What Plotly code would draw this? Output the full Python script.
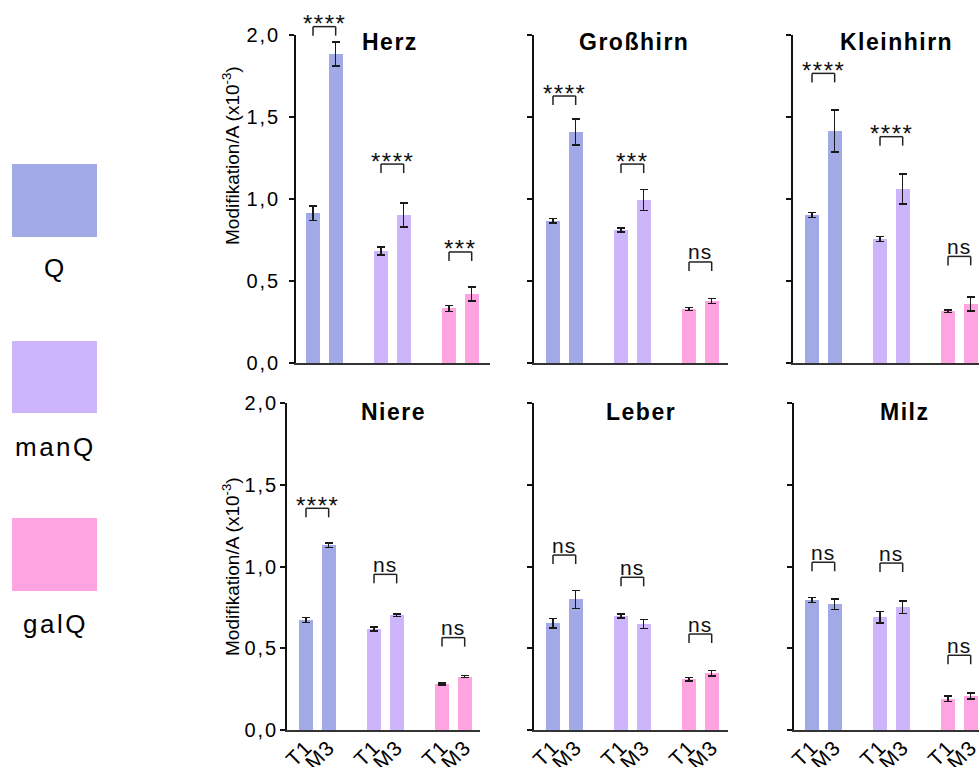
import plotly.graph_objects as go

# ---------------- data ----------------
organs = ["Herz", "Großhirn", "Kleinhirn", "Niere", "Leber", "Milz"]
groups = ["Q", "manQ", "galQ"]
conditions = ["T1", "M3"]
y_ticks = [0.0, 0.5, 1.0, 1.5, 2.0]

q_t1 = [0.913, 0.868, 0.902, 0.673, 0.653, 0.795]
q_m3 = [1.884, 1.409, 1.415, 1.131, 0.799, 0.770]
q_t1_err = [0.044, 0.014, 0.016, 0.014, 0.028, 0.014]
q_m3_err = [0.072, 0.080, 0.128, 0.014, 0.055, 0.032]

manq_t1 = [0.683, 0.811, 0.756, 0.618, 0.698, 0.690]
manq_m3 = [0.902, 0.994, 1.061, 0.703, 0.649, 0.751]
manq_t1_err = [0.023, 0.013, 0.016, 0.012, 0.012, 0.036]
manq_m3_err = [0.073, 0.065, 0.090, 0.008, 0.027, 0.037]

galq_t1 = [0.333, 0.329, 0.315, 0.281, 0.310, 0.190]
galq_m3 = [0.421, 0.378, 0.360, 0.326, 0.347, 0.208]
galq_t1_err = [0.019, 0.008, 0.008, 0.005, 0.010, 0.017]
galq_m3_err = [0.042, 0.015, 0.042, 0.006, 0.016, 0.017]

sig_q = ["****", "****", "****", "****", "ns", "ns"]
sig_manq = ["****", "***", "****", "ns", "ns", "ns"]
sig_galq = ["***", "ns", "ns", "ns", "ns", "ns"]

bracket_q = [2.051, 1.628, 1.766, 1.356, 1.070, 1.026]
bracket_manq = [1.213, 1.213, 1.380, 0.952, 0.934, 1.021]
bracket_galq = [0.677, 0.616, 0.650, 0.565, 0.587, 0.457]

# ---------------- style / layout ----------------
colors = ["#A1A9E6", "#CDB5FC", "#FFA4E0"]
W, H = 979, 767
FONT = "Liberation Sans, Arial, sans-serif"
unit = 22.67  # px per x unit
# panel geometry in px: x0, x1, ytop, ybottom, first bar offset
panels = [
    (296, 490, 35, 363, 17),
    (534, 728, 35, 363, 19),
    (793, 979, 35, 363, 19),
    (287, 480, 403, 730, 19),
    (534, 728, 403, 730, 19),
    (794, 979, 403, 730, 18),
]


def ls(text, sp):
    return f'<span style="letter-spacing:{sp}px">{text}</span>'


means = [(q_t1, q_m3), (manq_t1, manq_m3), (galq_t1, galq_m3)]
errs = [(q_t1_err, q_m3_err), (manq_t1_err, manq_m3_err), (galq_t1_err, galq_m3_err)]
sigs = [sig_q, sig_manq, sig_galq]
brackets = [bracket_q, bracket_manq, bracket_galq]

fig = go.Figure()
layout = dict(
    width=W, height=H, autosize=False,
    margin=dict(l=0, r=0, t=0, b=0, pad=0, autoexpand=False),
    paper_bgcolor="white", plot_bgcolor="white",
    showlegend=False, bargap=0,
    font=dict(family=FONT, color="black"),
)
shapes = []
annotations = []

tick_pos = []
tick_txt = []
for g in range(3):
    for k in range(2):
        tick_pos.append(3 * g + k)
        tick_txt.append(ls(conditions[k], 1))

for i, organ in enumerate(organs):
    x0, x1, yt, yb, off = panels[i]
    r0 = -off / unit
    r1 = r0 + (x1 - x0) / unit
    ax = "" if i == 0 else str(i + 1)
    xa, ya = "x" + ax, "y" + ax
    bottom = i >= 3
    for g in range(3):
        fig.add_trace(go.Bar(
            x=[3 * g, 3 * g + 1],
            y=[means[g][0][i], means[g][1][i]],
            width=0.62,
            marker=dict(color=colors[g], line=dict(width=0)),
            error_y=dict(type="data", array=[errs[g][0][i], errs[g][1][i]],
                         color="#1a1a1a", thickness=1.5, width=4),
            xaxis=xa, yaxis=ya, name=groups[g],
        ))
        # significance bracket
        by = brackets[g][i] / 2.0
        leg = 9 / (yb - yt)
        fa = (3 * g - r0) / (r1 - r0)
        fb = (3 * g + 1 - r0) / (r1 - r0)
        for (ax0, ay0, ax1, ay1) in [(fa, by, fb, by), (fa, by, fa, by - leg), (fb, by, fb, by - leg)]:
            shapes.append(dict(type="line", xref=xa + " domain", yref=ya + " domain",
                               x0=ax0, y0=ay0, x1=ax1, y1=ay1,
                               line=dict(color="#222", width=1.5)))
        s = sigs[g][i]
        star = s != "ns"
        annotations.append(dict(
            xref=xa + " domain", yref=ya + " domain", x=(fa + fb) / 2, y=by,
            text=ls(s, 1.5 if star else 1), showarrow=False,
            xanchor="center", yanchor="middle", yshift=3 if star else 10,
            font=dict(size=24 if star else 21, family=FONT, color="#111"),
        ))
    layout["xaxis" + ax] = dict(
        domain=[x0 / W, x1 / W], range=[r0, r1], anchor=ya,
        showline=True, linecolor="#333", linewidth=2, ticks="",
        tickvals=tick_pos, ticktext=tick_txt, showticklabels=bottom,
        tickangle=-45, tickfont=dict(size=21, family=FONT, color="black"),
        ticklabelstandoff=-5, ticklabeloverflow="allow", automargin=False,
        showgrid=False, zeroline=False, fixedrange=True,
    )
    layout["yaxis" + ax] = dict(
        domain=[1 - yb / H, 1 - yt / H], range=[0, 2.0], anchor=xa,
        showline=True, linecolor="#111", linewidth=1.5,
        ticks="outside", ticklen=5, tickwidth=1.5, tickcolor="#111",
        tickvals=y_ticks,
        ticktext=[ls(f"{v:.1f}".replace(".", ","), 2) for v in y_ticks],
        showticklabels=(i % 3 == 0),
        tickfont=dict(size=20, family=FONT, color="black"),
        ticklabelstandoff=5 if i == 0 else -2, ticklabeloverflow="allow",
        automargin=False,
        showgrid=False, zeroline=False, fixedrange=True,
    )
    # panel title
    tx = [390, 634, 896, 393, 641, 904][i]
    ty = 42 if not bottom else 412
    annotations.append(dict(
        xref="paper", yref="paper", x=tx / W, y=1 - ty / H,
        text="<b>" + ls(organ, 1.5) + "</b>", showarrow=False,
        xanchor="center", yanchor="middle",
        font=dict(size=23, family=FONT, color="black"),
    ))

# y axis titles
for cy in [156, 567]:
    annotations.append(dict(
        xref="paper", yref="paper", x=231 / W, y=1 - cy / H,
        text="Modifikation/A (x10<sup>-3</sup>)", textangle=-90, showarrow=False,
        xanchor="center", yanchor="middle",
        font=dict(size=19, family=FONT, color="black"),
    ))

# legend
leg_boxes = [(164, 237, 268), (341, 413, 447), (518, 591, 624)]
for g, (y0, y1, ly) in enumerate(leg_boxes):
    shapes.append(dict(type="rect", xref="paper", yref="paper",
                       x0=12 / W, x1=97 / W, y0=1 - y1 / H, y1=1 - y0 / H,
                       fillcolor=colors[g], line=dict(width=0)))
    annotations.append(dict(
        xref="paper", yref="paper", x=55 / W, y=1 - ly / H,
        text=ls(groups[g], 2.5), showarrow=False,
        xanchor="center", yanchor="middle",
        font=dict(size=26, family=FONT, color="black"),
    ))

layout["shapes"] = shapes
layout["annotations"] = annotations
fig.update_layout(**layout)
fig.write_html("out.html")
